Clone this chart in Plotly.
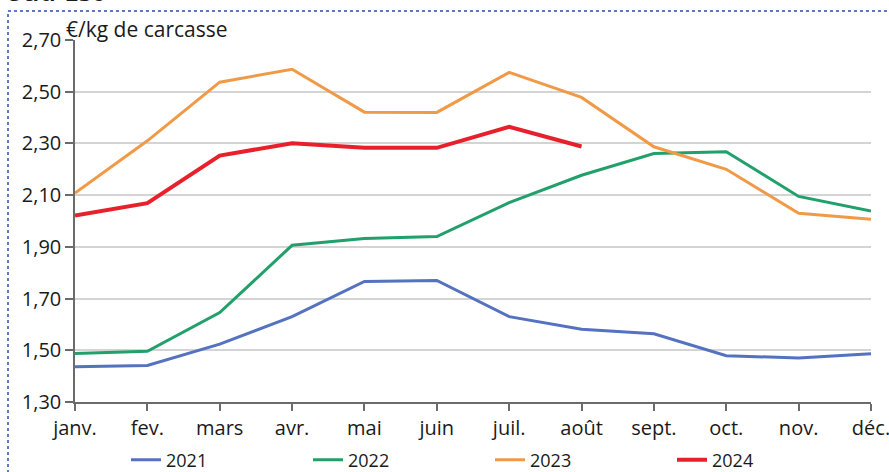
import plotly.graph_objects as go

months = ["janv.", "fev.", "mars", "avr.", "mai", "juin", "juil.", "août", "sept.", "oct.", "nov.", "déc."]

y2021 = [1.436, 1.441, 1.524, 1.630, 1.766, 1.770, 1.630, 1.581, 1.564, 1.479, 1.470, 1.487]
y2022 = [1.488, 1.496, 1.646, 1.906, 1.932, 1.940, 2.071, 2.177, 2.261, 2.268, 2.095, 2.039]
y2023 = [2.108, 2.310, 2.537, 2.587, 2.421, 2.420, 2.575, 2.478, 2.287, 2.200, 2.030, 2.007]
y2024 = [2.021, 2.069, 2.253, 2.301, 2.283, 2.283, 2.364, 2.288]

series_names = ["2021", "2022", "2023", "2024"]
series_values = [y2021, y2022, y2023, y2024]
series_colors = ["#5472C0", "#22A06B", "#F09A48", "#E8202C"]
series_widths = [3, 3, 3, 4]

y_ticks = [1.30, 1.50, 1.70, 1.90, 2.10, 2.30, 2.50, 2.70]

FONT = "Open Sans"
TXT = "#1a1a1a"

fig = go.Figure()
for name, vals, col, w in zip(series_names, series_values, series_colors, series_widths):
    fig.add_trace(go.Scatter(
        x=months[:len(vals)], y=vals, name=name, mode="lines",
        line=dict(color=col, width=w),
    ))

L, R, T, B = 75, 18, 40, 70
W, H = 889, 472
pw = W - L - R
ph = H - T - B

def px_x(p):
    return (p - L) / pw

def px_y(p):
    return (H - B - p) / ph

fig.update_layout(
    width=W, height=H,
    margin=dict(l=L, r=R, t=T, b=B, autoexpand=False),
    paper_bgcolor="white", plot_bgcolor="white",
    separators=", ",
    font=dict(family=FONT, color=TXT, size=18),
    showlegend=True,
    legend=dict(
        orientation="h", x=px_x(126), y=px_y(460), xanchor="left", yanchor="middle",
        font=dict(size=18, family=FONT, color=TXT),
        entrywidth=137, entrywidthmode="pixels", itemwidth=30,
        bgcolor="rgba(0,0,0,0)",
    ),
    xaxis=dict(
        type="category", range=[0, 11], showgrid=False, automargin=False,
        showline=True, linecolor="#6b6b6b", linewidth=1.5,
        ticks="outside", ticklen=7, tickcolor="#6b6b6b", tickwidth=1.5,
        tickfont=dict(size=20, family=FONT, color=TXT),
        zeroline=False,
    ),
    yaxis=dict(
        range=[1.30, 2.70], tickvals=y_ticks, tickformat=".2f", automargin=False,
        showgrid=True, gridcolor="#d4d4d4", gridwidth=1.5,
        showline=True, linecolor="#6b6b6b", linewidth=1.5,
        ticks="outside", ticklen=8, tickcolor="#6b6b6b", tickwidth=1.5,
        tickfont=dict(size=20, family=FONT, color=TXT),
        zeroline=False,
    ),
)

# unit label
fig.add_annotation(
    text="€/kg de carcasse", xref="paper", yref="paper",
    x=px_x(64), y=px_y(45), xanchor="left", yanchor="bottom",
    showarrow=False, font=dict(size=21, family=FONT, color=TXT),
)
# clipped heading at very top
fig.add_annotation(
    text="<b>Sud-Est</b>", xref="paper", yref="paper",
    x=px_x(6), y=px_y(11), xanchor="left", yanchor="bottom",
    showarrow=False, font=dict(size=26, family=FONT, color=TXT),
)
# dotted frame
fig.add_shape(
    type="rect", xref="paper", yref="paper",
    x0=px_x(8), x1=px_x(900), y0=px_y(480), y1=px_y(11),
    line=dict(color="#5d78c8", width=2, dash="dot"), layer="below",
)

fig.write_html(
    "out.html",
    config={"displayModeBar": False},
    post_script="document.body.style.margin='0';",
)
